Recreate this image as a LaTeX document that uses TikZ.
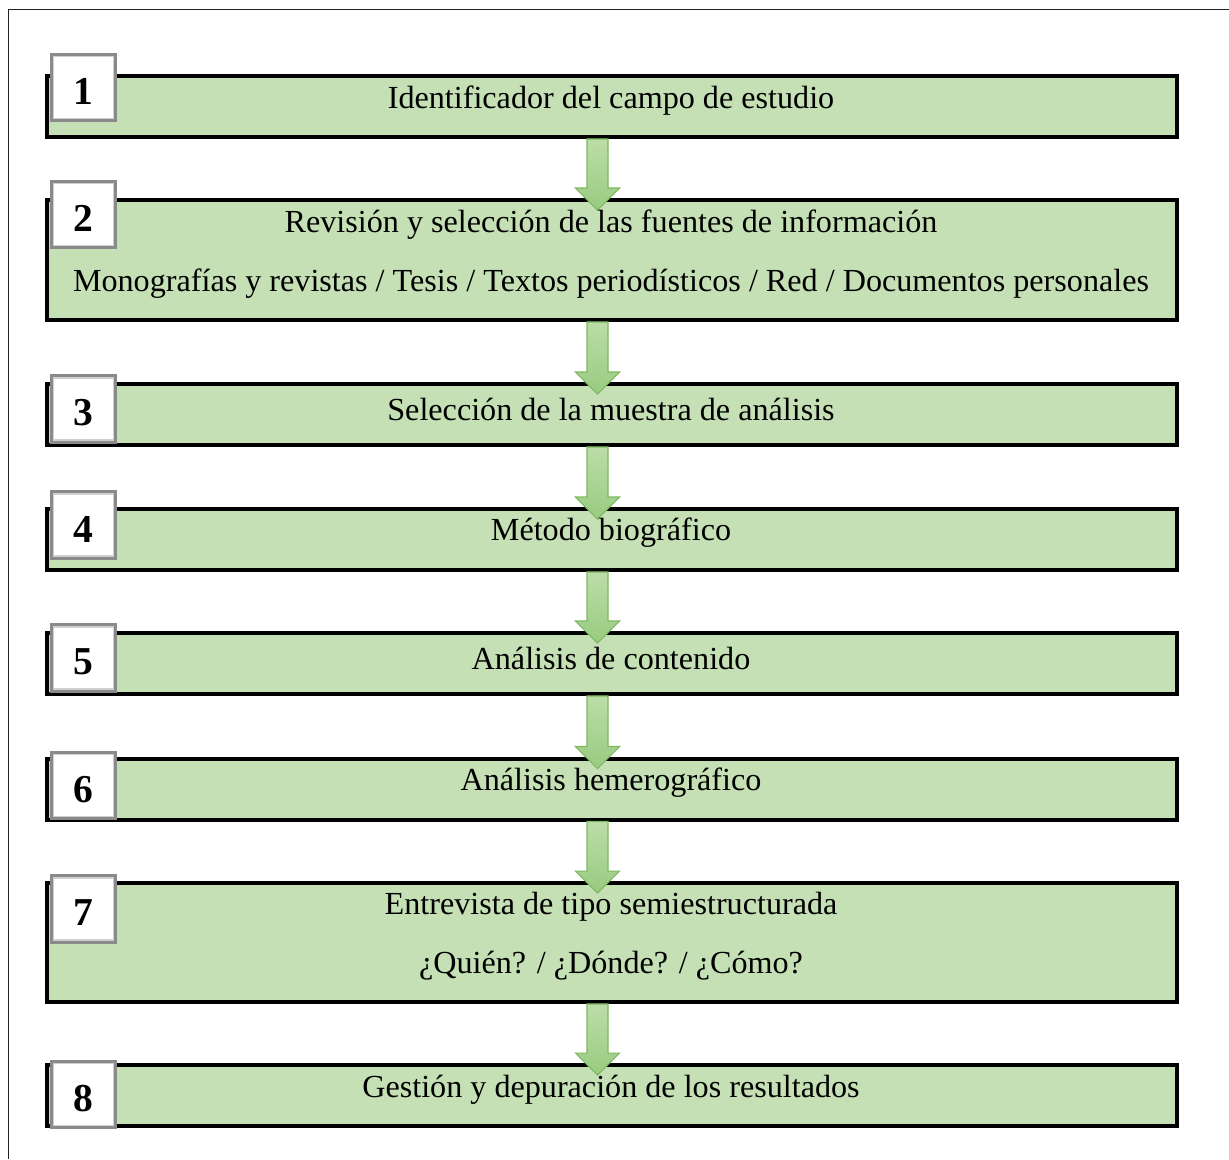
\documentclass[tikz,border=0pt]{standalone}
\usepackage{fontspec}
\setmainfont{Liberation Serif}
\usetikzlibrary{calc}
\definecolor{boxgreen}{HTML}{C5E0B4}
\definecolor{arrowtop}{HTML}{BCDDA8}
\definecolor{arrowbot}{HTML}{98CB80}
\definecolor{arrowline}{HTML}{7DB961}
\definecolor{sqgray}{HTML}{8A8A8A}
\definecolor{sqlight}{HTML}{CFCFCF}
\definecolor{framegray}{HTML}{222222}
\tikzset{
  stepbox/.style={draw=black, fill=boxgreen, line width=2.27pt, inner sep=0pt,
    minimum width=22.6cm, minimum height=1.22cm},
  tallbox/.style={stepbox, minimum height=2.4cm},
  numbox/.style={draw=sqgray, fill=white, line width=1.8pt, inner sep=0pt,
    minimum width=1.28cm, minimum height=1.32cm},
  numtext/.style={font=\bfseries\fontsize{22.5}{26}\selectfont, inner sep=0pt},
  steptext/.style={font=\fontsize{18.3}{22}\selectfont, inner sep=0pt},
  innerring/.style={draw=sqlight, line width=0.8pt},
  flowarrow/.style={draw=arrowline, line width=0.6pt, top color=arrowtop, bottom color=arrowbot, line join=miter},
  frameline/.style={draw=framegray, line width=0.9pt}
}
\newcommand\flowarrowbetween[2]{%
  \coordinate (ta) at (597.5,0 |- #1.south);
  \coordinate (tb) at (597.5,0 |- #2.north);
  \path[flowarrow] ($(ta)+(-10.5,0)$) -- ($(ta)+(10.5,0)$) -- ($(tb)+(10.5,-10)$)
    -- ($(tb)+(22,-10)$) -- ($(tb)+(0,12)$) -- ($(tb)+(-22,-10)$)
    -- ($(tb)+(-10.5,-10)$) -- cycle;
}
\newcommand\numsquare[3]{%
  \node[numbox] (#1) at (83.5,#2) {};
  \draw[innerring] ($(#1.south west)+(3.5,-3.5)$) rectangle ($(#1.north east)+(-3.5,3.5)$);
  \node[numtext] (#1t) at ($(#1.center)+(0,4)$) {#3};
}
\begin{document}
\begin{tikzpicture}[x=0.02cm, y=-0.02cm]
\useasboundingbox (0,0) rectangle (1229,1159);
\fill[white] (0,0) rectangle (1229,1159);
\coordinate (fr) at (8.5,9.5);
\draw[frameline] (1229,9.5) -- (fr) -- (8.5,1159);

% boxes
\node[stepbox] (b1) at (612,106.5) {};
\node[tallbox] (b2) at (612,260) {};
\node[stepbox] (b3) at (612,414.5) {};
\node[stepbox] (b4) at (612,539.5) {};
\node[stepbox] (b5) at (612,663.5) {};
\node[stepbox] (b6) at (612,789) {};
\node[tallbox, minimum height=2.38cm] (b7) at (612,942.5) {};
\node[stepbox] (b8) at (612,1095.5) {};

% arrows
\flowarrowbetween{b1}{b2}
\flowarrowbetween{b2}{b3}
\flowarrowbetween{b3}{b4}
\flowarrowbetween{b4}{b5}
\flowarrowbetween{b5}{b6}
\flowarrowbetween{b6}{b7}
\flowarrowbetween{b7}{b8}

% texts
\node[steptext] (t1) at (611,101) {Identificador del campo de estudio};
\node[steptext] (t2a) at (611,225) {Revisión y selección de las fuentes de información};
\node[steptext] (t2b) at (611,284) {Monografías y revistas / Tesis / Textos periodísticos / Red / Documentos personales};
\node[steptext] (t3) at (611,409) {Selección de la muestra de análisis};
\node[steptext] (t4) at (611,533) {Método biográfico};
\node[steptext] (t5) at (611,658) {Análisis de contenido};
\node[steptext] (t6) at (611,783) {Análisis hemerográfico};
\node[steptext] (t7a) at (611,907) {Entrevista de tipo semiestructurada};
\node[steptext] (t7b) at (611,966) {¿Quién? / ¿Dónde? / ¿Cómo?};
\node[steptext] (t8) at (611,1090) {Gestión y depuración de los resultados};

% number squares
\numsquare{n1}{87.5}{1}
\numsquare{n2}{214.5}{2}
\numsquare{n3}{409}{3}
\numsquare{n4}{525}{4}
\numsquare{n5}{658}{5}
\numsquare{n6}{785.5}{6}
\numsquare{n7}{909}{7}
\numsquare{n8}{1094.5}{8}
\end{tikzpicture}
\end{document}
